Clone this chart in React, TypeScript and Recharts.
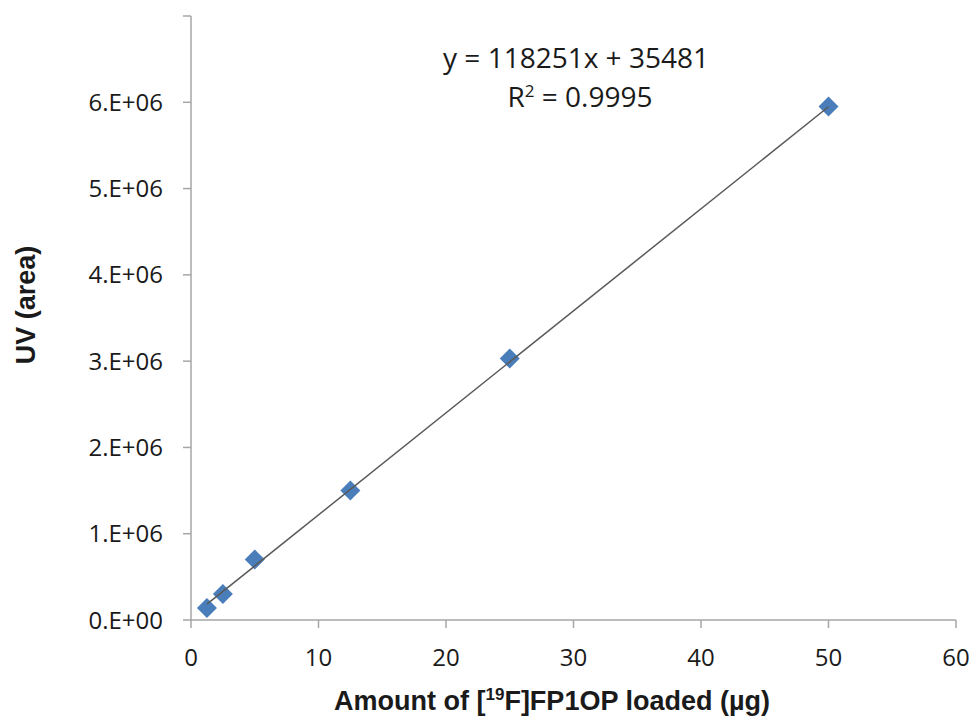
import { ScatterChart, Scatter, XAxis, YAxis, Label } from 'recharts'

// measured points (amount loaded in µg vs UV peak area)
const amounts = [1.25, 2.5, 5, 12.5, 25, 50]
const uvAreas = [140000, 300000, 700000, 1500000, 3030000, 5950000]

// linear trendline end points
const trendX = [1.25, 50]
const trendY = [183300, 5948000]

const xTicks = [0, 10, 20, 30, 40, 50, 60]
const yTicks = [0, 1e6, 2e6, 3e6, 4e6, 5e6, 6e6, 7e6]

const equation = 'y = 118251x + 35481'
const rSquared = '0.9995'

const points = amounts.map((x, i) => ({ x, y: uvAreas[i] }))
const trend = trendX.map((x, i) => ({ x, y: trendY[i] }))

const font = '"Open Sans", "Liberation Sans", sans-serif'
const titleFont = '"Liberation Sans", Arial, sans-serif'
const axisColor = '#a6a6a6'
const textColor = '#1a1a1a'

const Diamond = (props: any) => {
  const { cx, cy } = props
  const r = 10
  return (
    <polygon
      points={`${cx},${cy - r} ${cx + r},${cy} ${cx},${cy + r} ${cx - r},${cy}`}
      fill="#4a7ebb"
    />
  )
}

const formatY = (v: number) => {
  // top tick has no label in the original
  if (v === 7e6) return ''
  return `${(v / 1e6).toFixed(0)}.E+0${v === 0 ? 0 : 6}`
}

export default function App() {
  return (
    <div style={{ position: 'absolute', left: 0, top: 0, width: 971, height: 717, background: '#fff' }}>
      <ScatterChart width={971} height={717} margin={{ top: 16, right: 15, bottom: 67, left: 0 }}>
        <XAxis
          type="number"
          dataKey="x"
          domain={[0, 60]}
          ticks={xTicks}
          stroke={axisColor}
          strokeWidth={1.5}
          tickSize={8}
          tickMargin={21}
          height={30}
          tick={{ fill: textColor, fontSize: 24, fontFamily: font }}
        >
          <Label
            position="bottom"
            content={() => (
              <text x={552} y={710} textAnchor="middle" fill={textColor} fontSize={27} fontWeight="bold" fontFamily={titleFont}>
                Amount of [<tspan fontSize={17} dy={-10}>19</tspan>
                <tspan dy={10}>F]FP1OP loaded (µg)</tspan>
              </text>
            )}
          />
        </XAxis>
        <YAxis
          type="number"
          dataKey="y"
          domain={[0, 7e6]}
          ticks={yTicks}
          tickFormatter={formatY}
          stroke={axisColor}
          strokeWidth={1.5}
          tickSize={8}
          tickMargin={20}
          width={191}
          tick={{ fill: textColor, fontSize: 24, fontFamily: font }}
        >
          <Label
            position="left"
            content={() => (
              <text
                x={35}
                y={305}
                transform="rotate(-90 35 305)"
                textAnchor="middle"
                fill={textColor}
                fontSize={27}
                fontWeight="bold"
                fontFamily={titleFont}
              >
                UV (area)
              </text>
            )}
          />
        </YAxis>
        <Scatter data={points} shape={<Diamond />} isAnimationActive={false} />
        <Scatter
          data={trend}
          line={{ stroke: '#595959', strokeWidth: 1.5 }}
          shape={() => <g />}
          isAnimationActive={false}
        />
      </ScatterChart>
      <svg width={971} height={140} style={{ position: 'absolute', left: 0, top: 0 }}>
        <text x={576} y={68} textAnchor="middle" fill={textColor} fontSize={28} fontFamily={font}>
          {equation}
        </text>
        <text x={580} y={107} textAnchor="middle" fill={textColor} fontSize={28} fontFamily={font}>
          R<tspan fontSize={17} dy={-10}>2</tspan>
          <tspan dy={10}> = {rSquared}</tspan>
        </text>
      </svg>
    </div>
  )
}
